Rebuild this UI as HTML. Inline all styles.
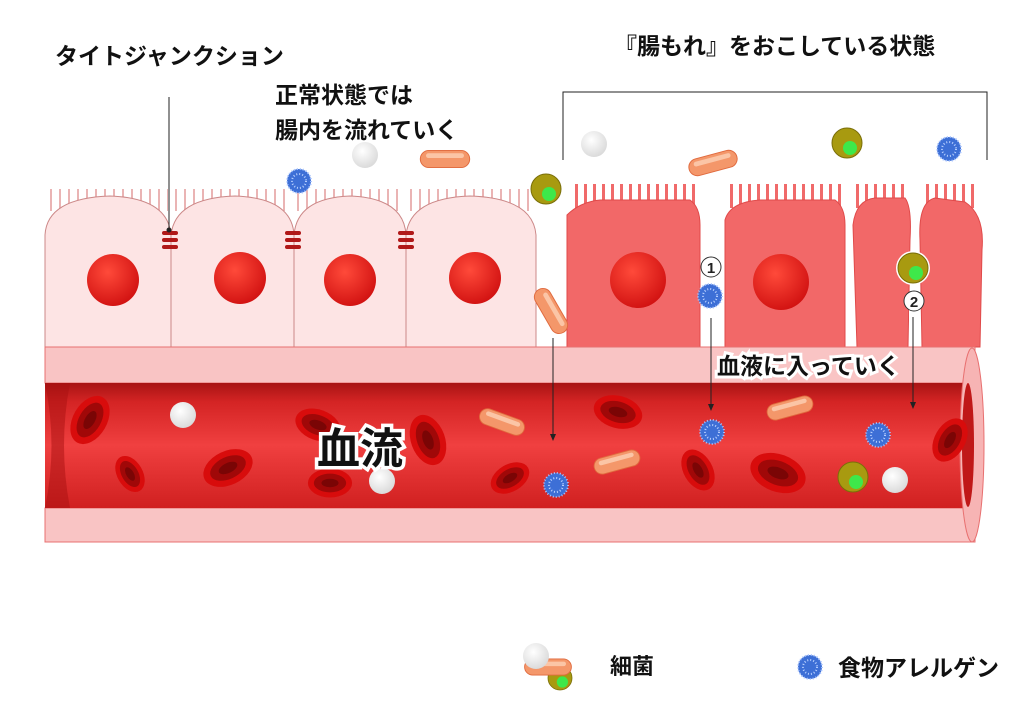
<!DOCTYPE html>
<html><head><meta charset="utf-8"><style>
body{margin:0;background:#fff;}
svg{display:block}
text{font-family:"Liberation Sans","Noto Sans CJK JP",sans-serif;font-weight:bold;}
</style></head><body>
<svg width="1024" height="706" viewBox="0 0 1024 706" xmlns="http://www.w3.org/2000/svg">
<defs>
<radialGradient id="nuc" cx="0.4" cy="0.35" r="0.7"><stop offset="0" stop-color="#ff4a3a"/><stop offset="1" stop-color="#d01010"/></radialGradient>
<linearGradient id="lum" x1="0" y1="0" x2="0" y2="1"><stop offset="0" stop-color="#a81414"/><stop offset="0.15" stop-color="#d42424"/><stop offset="0.5" stop-color="#f04040"/><stop offset="1" stop-color="#d02020"/></linearGradient>
<radialGradient id="wb" cx="0.4" cy="0.35" r="0.7"><stop offset="0" stop-color="#fff"/><stop offset="1" stop-color="#d8d8d8"/></radialGradient>
<g id="rbc"><ellipse rx="26" ry="17" fill="#d80c0c"/><ellipse rx="19" ry="11" fill="#a00808"/><ellipse rx="10" ry="5" fill="#7a0505"/></g>
<g id="al"><circle r="12" fill="#3d6fd6"/><circle r="12" fill="none" stroke="#a8c4ff" stroke-width="2" stroke-dasharray="1 2"/><circle r="7" fill="none" stroke="#b8d0ff" stroke-width="2" stroke-dasharray="1 2"/></g>
<g id="bac"><rect x="-26" y="-9" width="52" height="18" rx="9" fill="#f4976a" stroke="#e06a3e"/><rect x="-20" y="-6" width="40" height="5" rx="2.5" fill="#fbc5a6"/></g>
<g id="oc"><circle r="15" fill="#a89a10" stroke="#7a6e08"/><circle cx="3" cy="5" r="7" fill="#3ee84a"/></g>
<g id="wc"><circle r="13" fill="url(#wb)"/></g>
</defs>

<!-- healthy villi -->
<g stroke="#eab4b4" stroke-width="22" stroke-dasharray="2 7" fill="none">
<line x1="50" y1="200" x2="168" y2="200"/><line x1="175" y1="200" x2="290" y2="200"/>
<line x1="297" y1="200" x2="402" y2="200"/><line x1="410" y1="200" x2="530" y2="200"/>
</g>
<!-- healthy cells -->
<g fill="#fde4e4" stroke="#c88" stroke-width="1">
<path d="M45,347 L45,235 Q47,198 110,196 Q168,198 171,235 L171,347 Z"/>
<path d="M171,347 L171,235 Q175,198 235,196 Q292,198 294,235 L294,347 Z"/>
<path d="M294,347 L294,235 Q297,198 350,196 Q404,198 406,235 L406,347 Z"/>
<path d="M406,347 L406,235 Q410,198 470,196 Q533,198 536,235 L536,347 Z"/>
</g>
<g fill="#b01818">
<rect x="162" y="231" width="16" height="4" rx="2"/><rect x="162" y="238" width="16" height="4" rx="2"/><rect x="162" y="245" width="16" height="4" rx="2"/>
<rect x="285" y="231" width="16" height="4" rx="2"/><rect x="285" y="238" width="16" height="4" rx="2"/><rect x="285" y="245" width="16" height="4" rx="2"/>
<rect x="398" y="231" width="16" height="4" rx="2"/><rect x="398" y="238" width="16" height="4" rx="2"/><rect x="398" y="245" width="16" height="4" rx="2"/>
</g>
<g fill="url(#nuc)"><circle cx="113" cy="280" r="26"/><circle cx="240" cy="278" r="26"/><circle cx="350" cy="280" r="26"/><circle cx="475" cy="278" r="26"/></g>

<!-- leaky villi -->
<g stroke="#f06a6a" stroke-width="24" stroke-dasharray="3 6" fill="none">
<line x1="575" y1="196" x2="695" y2="196"/><line x1="730" y1="196" x2="842" y2="196"/>
<line x1="856" y1="196" x2="906" y2="196"/><line x1="926" y1="196" x2="978" y2="196"/>
</g>
<g fill="#f26868" stroke="#e04a4a">
<path d="M567,347 L567,215 Q580,202 600,200 L690,200 Q700,207 700,225 L700,347 Z"/>
<path d="M725,347 L725,220 Q730,202 760,200 L835,200 Q845,207 845,225 L845,347 Z"/>
<path d="M857,347 L853,225 Q856,200 875,198 L905,198 Q912,207 910,240 L908,347 Z"/>
<path d="M922,347 L920,240 Q918,202 935,198 L965,202 Q985,215 982,250 L980,347 Z"/>
</g>
<g fill="url(#nuc)"><circle cx="638" cy="280" r="28"/><circle cx="781" cy="282" r="28"/></g>
<circle cx="913" cy="268" r="17" fill="#fff"/>
<use href="#oc" x="913" y="268"/>
<rect x="909" y="300" width="8" height="48" fill="#fff"/>

<!-- vessel -->
<rect x="45" y="347" width="930" height="36" fill="#f9c4c4" stroke="#e87070"/>
<rect x="45" y="508" width="930" height="34" fill="#f9c4c4" stroke="#e87070"/>
<rect x="45" y="383" width="925" height="125" fill="url(#lum)"/>
<path d="M45,383 Q58,445 45,508 L70,508 Q58,445 70,383 Z" fill="#a81010" opacity="0.5"/>
<ellipse cx="972" cy="445" rx="12" ry="97" fill="#f7b4b4" stroke="#e87070"/>
<ellipse cx="968" cy="445" rx="6" ry="62" fill="#c01818"/>

<use href="#rbc" transform="translate(90,420) rotate(-60)"/>
<use href="#rbc" transform="translate(130,474) rotate(60) scale(0.75)"/>
<use href="#rbc" transform="translate(228,468) rotate(-25)"/>
<use href="#rbc" transform="translate(318,425) rotate(20) scale(0.9)"/>
<use href="#rbc" transform="translate(330,483) scale(0.85)"/>
<use href="#rbc" transform="translate(428,440) rotate(70)"/>
<use href="#rbc" transform="translate(510,478) rotate(-30) scale(0.8)"/>
<use href="#rbc" transform="translate(618,412) rotate(15) scale(0.95)"/>
<use href="#rbc" transform="translate(698,470) rotate(60) scale(0.85)"/>
<use href="#rbc" transform="translate(778,473) rotate(20) scale(1.1)"/>
<use href="#rbc" transform="translate(950,440) rotate(-60) scale(0.9)"/>
<use href="#wc" x="183" y="415"/><use href="#wc" x="382" y="481"/><use href="#wc" x="895" y="480"/>
<use href="#bac" transform="translate(502,422) rotate(20) scale(0.9)"/>
<use href="#bac" transform="translate(617,462) rotate(-15) scale(0.9)"/>
<use href="#bac" transform="translate(790,408) rotate(-15) scale(0.9)"/>
<use href="#al" x="556" y="485"/><use href="#al" x="712" y="432"/><use href="#al" x="878" y="435"/>
<use href="#oc" x="853" y="477"/>

<!-- lumen particles -->
<use href="#wc" x="365" y="155"/><use href="#wc" x="594" y="144"/>
<use href="#bac" transform="translate(445,159) scale(0.95)"/>
<use href="#bac" transform="translate(713,163) rotate(-15) scale(0.95)"/>
<use href="#bac" transform="translate(551,311) rotate(60) scale(0.95)"/>
<use href="#al" x="299" y="181"/><use href="#al" x="949" y="149"/><use href="#al" x="710" y="296"/>
<use href="#oc" x="546" y="189"/><use href="#oc" x="847" y="143"/>

<!-- lines / arrows -->
<g stroke="#222" stroke-width="1" fill="none">
<line x1="169" y1="97" x2="169" y2="230"/>
<polyline points="563,160 563,92 987,92 987,160"/>
<line x1="553" y1="338" x2="553" y2="434"/>
<line x1="711" y1="318" x2="711" y2="404"/>
<line x1="913" y1="317" x2="913" y2="402"/>
</g>
<g fill="#222"><polygon points="550,434 556,434 553,441"/><polygon points="708,404 714,404 711,411"/><polygon points="910,402 916,402 913,409"/></g>
<circle cx="169" cy="230" r="2.5" fill="#222"/>
<circle cx="711" cy="267" r="10" fill="#fff" stroke="#333"/><text x="711" y="273" font-size="15" font-weight="normal" text-anchor="middle" fill="#222">1</text>
<circle cx="914" cy="301" r="10" fill="#fff" stroke="#333"/><text x="914" y="307" font-size="15" font-weight="normal" text-anchor="middle" fill="#222">2</text>

<!-- texts -->
<text x="55" y="64" font-size="23" fill="#111">タイトジャンクション</text>
<text x="275" y="103" font-size="23" fill="#111">正常状態では</text>
<text x="275" y="138" font-size="23" fill="#111">腸内を流れていく</text>
<text x="614" y="54" font-size="23" fill="#111">『腸もれ』をおこしている状態</text>
<text x="717" y="374" font-size="23" fill="#111" stroke="#fff" stroke-width="6" paint-order="stroke">血液に入っていく</text>
<text x="317" y="464" font-size="43" fill="#111" stroke="#fff" stroke-width="7" paint-order="stroke">血流</text>

<!-- legend -->
<use href="#oc" transform="translate(560,678) scale(0.8)"/>
<use href="#bac" transform="translate(548,667) scale(0.9)"/>
<use href="#wc" x="536" y="656"/>
<text x="610" y="674" font-size="22" fill="#111">細菌</text>
<use href="#al" x="810" y="667"/>
<text x="838" y="676" font-size="23" fill="#111">食物アレルゲン</text>
</svg>
</body></html>
